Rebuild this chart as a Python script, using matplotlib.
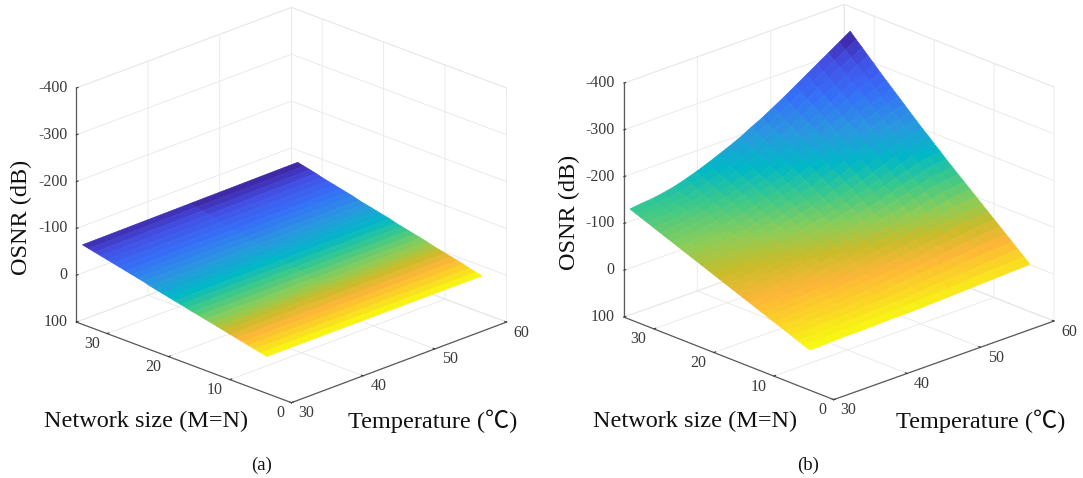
import matplotlib
matplotlib.use("Agg")
import matplotlib.pyplot as plt
import numpy as np
from matplotlib.colors import LinearSegmentedColormap, Normalize

temp_a = [30, 45, 60]
size_values = list(range(4, 35))
osnr_a_t30 = [21,18,15,12,9,6,3,0,-3,-6,-9,-12,-15,-18,-21,-24,-27,-30,-33,-36,-40,-43,-46,-49,-52,-55,-58,-61,-64,-67,-70]
osnr_a_t45 = [21,18,15,12,9,6,2,-1,-4,-7,-10,-13,-16,-19,-22,-26,-29,-32,-35,-38,-41,-44,-47,-50,-53,-57,-60,-63,-66,-69,-72]
osnr_a_t60 = [21,18,15,11,8,5,2,-1,-4,-8,-11,-14,-17,-20,-23,-27,-30,-33,-36,-39,-42,-46,-49,-52,-55,-58,-61,-65,-68,-71,-74]

temp_b = [30, 31.5, 33, 34.5, 36, 37.5, 39, 40.5, 42, 43.5, 45, 46.5, 48, 49.5, 51, 52.5, 54, 55.5, 57, 58.5, 60]
osnr_b_t30 = [14,9,4,-1,-6,-11,-16,-21,-26,-31,-36,-41,-46,-51,-56,-61,-66,-71,-76,-81,-86,-91,-96,-101,-106,-111,-116,-121,-126,-131,-136]
osnr_b_t31h = [14,9,4,-2,-7,-12,-17,-22,-27,-32,-37,-42,-48,-53,-58,-63,-68,-73,-78,-83,-88,-93,-98,-103,-108,-113,-118,-124,-129,-134,-139]
osnr_b_t33 = [13,8,3,-2,-8,-13,-18,-23,-28,-33,-38,-43,-49,-54,-59,-64,-69,-74,-79,-84,-90,-95,-100,-105,-110,-115,-120,-126,-131,-136,-141]
osnr_b_t34h = [12,7,2,-3,-9,-14,-19,-24,-30,-35,-40,-45,-51,-56,-61,-66,-72,-77,-82,-88,-93,-98,-103,-108,-114,-119,-124,-130,-135,-140,-145]
osnr_b_t36 = [12,7,1,-4,-10,-15,-20,-26,-31,-37,-42,-47,-53,-58,-64,-69,-74,-80,-85,-91,-96,-101,-107,-112,-118,-123,-128,-134,-139,-145,-150]
osnr_b_t37h = [12,6,0,-6,-11,-17,-22,-28,-34,-40,-45,-50,-56,-62,-68,-73,-78,-84,-90,-96,-101,-106,-112,-118,-124,-130,-135,-140,-146,-152,-157]
osnr_b_t39 = [11,5,-1,-7,-12,-18,-24,-30,-36,-42,-48,-54,-59,-65,-71,-77,-83,-89,-95,-100,-106,-112,-118,-124,-130,-136,-142,-147,-153,-159,-165]
osnr_b_t40h = [10,4,-2,-8,-14,-20,-26,-32,-39,-45,-52,-58,-64,-70,-76,-82,-88,-94,-100,-106,-112,-119,-125,-132,-138,-144,-150,-156,-162,-168,-174]
osnr_b_t42 = [10,4,-3,-9,-16,-22,-29,-35,-42,-48,-55,-61,-68,-74,-81,-87,-94,-100,-106,-113,-119,-126,-132,-139,-145,-152,-158,-165,-171,-178,-184]
osnr_b_t43h = [10,3,-4,-10,-18,-24,-32,-38,-45,-52,-58,-65,-72,-79,-86,-92,-100,-106,-112,-120,-126,-134,-140,-147,-154,-160,-167,-174,-181,-188,-194]
osnr_b_t45 = [9,2,-5,-12,-20,-27,-34,-41,-48,-55,-62,-69,-77,-84,-91,-98,-105,-112,-119,-126,-134,-141,-148,-155,-162,-169,-176,-183,-191,-198,-205]
osnr_b_t46h = [8,0,-7,-14,-22,-30,-37,-44,-52,-60,-67,-74,-82,-90,-98,-105,-112,-120,-127,-134,-142,-150,-158,-165,-172,-180,-187,-194,-202,-210,-218]
osnr_b_t48 = [7,-1,-9,-17,-25,-33,-40,-48,-56,-64,-72,-80,-88,-96,-104,-112,-119,-127,-135,-143,-151,-159,-167,-175,-183,-191,-198,-206,-214,-222,-230]
osnr_b_t49h = [6,-2,-11,-19,-28,-36,-44,-52,-60,-69,-78,-86,-94,-102,-111,-120,-127,-136,-144,-152,-160,-169,-178,-186,-194,-202,-210,-219,-227,-236,-244]
osnr_b_t51 = [5,-4,-13,-21,-30,-39,-48,-56,-65,-74,-83,-91,-100,-109,-118,-127,-135,-144,-153,-162,-170,-179,-188,-197,-205,-214,-223,-232,-240,-249,-258]
osnr_b_t52h = [4,-6,-14,-24,-33,-42,-52,-60,-70,-79,-88,-98,-106,-116,-126,-135,-144,-153,-162,-172,-180,-190,-199,-208,-218,-227,-236,-246,-254,-264,-273]
osnr_b_t54 = [3,-7,-16,-26,-36,-46,-55,-65,-75,-84,-94,-104,-113,-123,-133,-143,-152,-162,-172,-181,-191,-201,-210,-220,-230,-240,-249,-259,-269,-278,-288]
osnr_b_t55h = [2,-8,-18,-28,-39,-49,-59,-70,-80,-90,-100,-110,-120,-130,-140,-151,-160,-171,-181,-191,-202,-212,-222,-232,-242,-252,-262,-272,-283,-292,-303]
osnr_b_t57 = [1,-10,-20,-31,-42,-52,-63,-74,-84,-95,-105,-116,-127,-137,-148,-159,-169,-180,-190,-201,-212,-222,-233,-244,-254,-265,-275,-286,-297,-307,-318]
osnr_b_t58h = [0,-11,-22,-32,-44,-54,-65,-76,-86,-98,-108,-119,-130,-140,-152,-163,-174,-185,-196,-207,-218,-230,-241,-252,-264,-275,-286,-298,-310,-321,-333]
osnr_b_t60 = [-1,-12,-23,-34,-45,-56,-67,-78,-89,-100,-111,-122,-133,-144,-155,-167,-178,-190,-201,-213,-225,-237,-249,-261,-273,-285,-298,-310,-323,-335,-348]

temp_ticks = [30, 40, 50, 60]
temp_labels = ["30", "40", "50", "60"]
size_ticks = [0, 10, 20, 30]
size_labels = ["0", "10", "20", "30"]
osnr_ticks = [100, 0, -100, -200, -300, -400]
osnr_labels = ["100", "0", "-100", "-200", "-300", "-400"]
title_a, title_b = "(a)", "(b)"
label_osnr = "OSNR (dB)"
label_size = "Network size (M=N)"
label_temp = "Temperature (℃)"

W, H = 1083, 478
SERIF = ["Liberation Serif", "Noto Sans CJK SC", "DejaVu Sans"]
plt.rcParams["font.family"] = SERIF

cmap = LinearSegmentedColormap.from_list("parula_like", [
    (0.00, "#3d1f98"), (0.12, "#4350e6"), (0.25, "#3570f8"), (0.38, "#2a97e0"),
    (0.50, "#00b8c6"), (0.60, "#3cc98a"), (0.70, "#8ccd58"), (0.78, "#c9bc2a"),
    (0.86, "#fdb638"), (0.93, "#fbd526"), (1.00, "#f7fb10")])

fig = plt.figure(figsize=(W / 100, H / 100), dpi=100, facecolor="white")


def panel(cx, cy, azim, temps, columns):
    S = 478
    ax = fig.add_axes([(cx - S / 2) / W, 1 - (cy + S / 2) / H, S / W, S / H],
                      projection="3d", computed_zorder=False)
    ax.patch.set_alpha(0)
    ax.set_proj_type("ortho")
    ax.view_init(elev=22, azim=azim)
    ax.set_box_aspect((1, 1, 0.83), zoom=1.013)
    X, Y = np.meshgrid(temps, size_values)
    Z = np.array(columns, dtype=float).T
    norm = Normalize(Z.min(), Z.max())
    # each cell takes the colour of its corner values' mean
    cell = (Z[:-1, :-1] + Z[1:, :-1] + Z[:-1, 1:] + Z[1:, 1:]) / 4
    fc = cmap(norm(cell))
    ax.plot_surface(X, Y, Z, rstride=1, cstride=1, facecolors=fc,
                    shade=False, linewidth=0.5, antialiased=True)
    ax.set_xlim(30, 60)
    ax.set_ylim(0, 35)
    ax.set_zlim(100, -400)
    ax.set_xticks(temp_ticks)
    ax.set_xticklabels(temp_labels, ha="left", va="center")
    ax.set_yticks(size_ticks)
    ax.set_yticklabels(size_labels, ha="right", va="center")
    ax.set_zticks(osnr_ticks)
    ax.set_zticklabels(osnr_labels, ha="right", va="center")
    for axis in (ax.xaxis, ax.yaxis, ax.zaxis):
        axis.set_pane_color((1, 1, 1, 1))
        axis.pane.set_edgecolor("#e8e8e8")
        axis.pane.set_linewidth(0.6)
        axis.line.set_color("#5a5a5a")
        axis.line.set_linewidth(0.9)
        info = axis._axinfo
        info["grid"]["color"] = "#e8e8e8"
        info["grid"]["linewidth"] = 0.6
        info["tick"]["inward_factor"] = 0.0
        info["tick"]["outward_factor"] = 0.1
        info["tick"]["linewidth"] = {True: 0.8, False: 0.8}
        info["tick"]["color"] = "#5a5a5a"
    ax.tick_params(axis="both", labelsize=11.5, labelcolor="#3a3a3a", pad=-2, colors="#3a3a3a")
    ax.tick_params(axis="z", pad=-4.2)
    return ax


panel(285, 211.5, -135, temp_a, [osnr_a_t30, osnr_a_t45, osnr_a_t60])
panel(832.5, 208.5, -133.6, temp_b, [osnr_b_t30, osnr_b_t31h, osnr_b_t33, osnr_b_t34h, osnr_b_t36, osnr_b_t37h, osnr_b_t39,
                                     osnr_b_t40h, osnr_b_t42, osnr_b_t43h, osnr_b_t45, osnr_b_t46h, osnr_b_t48, osnr_b_t49h,
                                     osnr_b_t51, osnr_b_t52h, osnr_b_t54, osnr_b_t55h, osnr_b_t57, osnr_b_t58h, osnr_b_t60])


def ftext(x, y, s, size, **kw):
    fig.text(x / W, 1 - y / H, s, fontsize=size, ha="center", va="center", color="#111111", family=SERIF, **kw)


ftext(21, 217, label_osnr, 17.5, rotation=90)
ftext(146, 421, label_size, 17.5)
ftext(433, 421, label_temp, 17.5)
ftext(262, 465, title_a, 13.5)
ftext(569, 212, label_osnr, 17.5, rotation=90)
ftext(695, 421, label_size, 17.5)
ftext(981, 421, label_temp, 17.5)
ftext(808, 465, title_b, 13.5)

fig.savefig("out.png", dpi=100)
